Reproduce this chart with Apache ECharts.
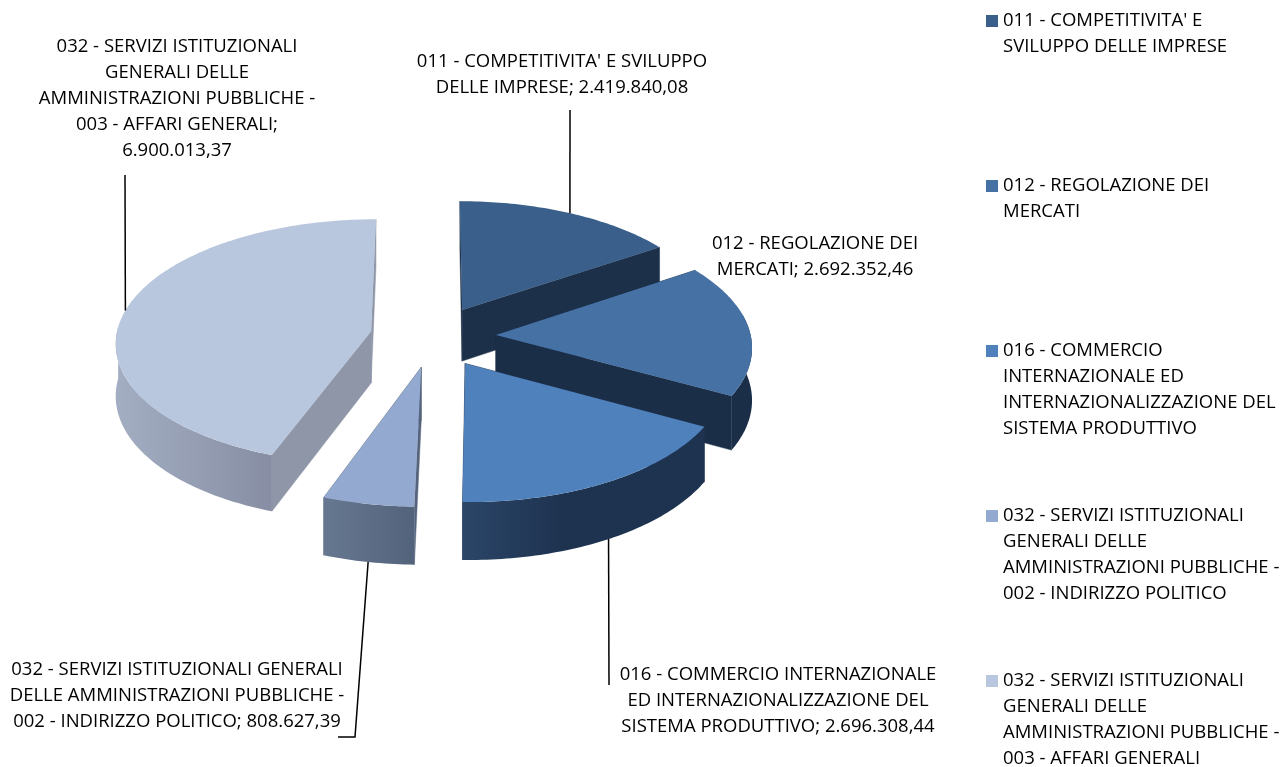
<!DOCTYPE html>
<html>
<head>
<meta charset="utf-8">
<style>
  html, body { margin: 0; padding: 0; background: #fff; }
  #main { width: 1284px; height: 767px; }
</style>
<script src="https://cdn.jsdelivr.net/npm/echarts@6/dist/echarts.min.js"></script>
</head>
<body>
<div id="main"></div>
<script>
// dati
const categories = [
  "011 - COMPETITIVITA' E SVILUPPO DELLE IMPRESE",
  '012 - REGOLAZIONE DEI MERCATI',
  '016 - COMMERCIO INTERNAZIONALE ED INTERNAZIONALIZZAZIONE DEL SISTEMA PRODUTTIVO',
  '032 - SERVIZI ISTITUZIONALI GENERALI DELLE AMMINISTRAZIONI PUBBLICHE - 002 - INDIRIZZO POLITICO',
  '032 - SERVIZI ISTITUZIONALI GENERALI DELLE AMMINISTRAZIONI PUBBLICHE - 003 - AFFARI GENERALI'
];
const values = [2419840.08, 2692352.46, 2696308.44, 808627.39, 6900013.37];
const legendLines = [
  ["011 - COMPETITIVITA' E", 'SVILUPPO DELLE IMPRESE'],
  ['012 - REGOLAZIONE DEI', 'MERCATI'],
  ['016 - COMMERCIO', 'INTERNAZIONALE ED', 'INTERNAZIONALIZZAZIONE DEL', 'SISTEMA PRODUTTIVO'],
  ['032 - SERVIZI ISTITUZIONALI', 'GENERALI DELLE', 'AMMINISTRAZIONI PUBBLICHE -', '002 - INDIRIZZO POLITICO'],
  ['032 - SERVIZI ISTITUZIONALI', 'GENERALI DELLE', 'AMMINISTRAZIONI PUBBLICHE -', '003 - AFFARI GENERALI']
];
const labelPrefix = [
  "011 - COMPETITIVITA' E SVILUPPO\nDELLE IMPRESE; ",
  '012 - REGOLAZIONE DEI\nMERCATI; ',
  '016 - COMMERCIO INTERNAZIONALE\nED INTERNAZIONALIZZAZIONE DEL\nSISTEMA PRODUTTIVO; ',
  '032 - SERVIZI ISTITUZIONALI GENERALI\nDELLE AMMINISTRAZIONI PUBBLICHE -\n002 - INDIRIZZO POLITICO; ',
  '032 - SERVIZI ISTITUZIONALI\nGENERALI DELLE\nAMMINISTRAZIONI PUBBLICHE -\n003 - AFFARI GENERALI;\n'
];

// colori
const topColors = ['#3a5f8b', '#4571a5', '#4f81bd', '#94a9cf', '#b9c7de'];
const cutColors = ['#1d3049', '#1b2e47', '#1e3350', '#55647c', '#8e96a8'];
const wallStops = [
  [[0, '#1d3049'], [1, '#1d3049']],
  [[0, '#1b2e47'], [1, '#1b2e47']],
  [[0, '#2b4668'], [0.4, '#1e3350'], [1, '#1e3350']],
  [[0, '#667790'], [1, '#53637b']],
  [[0, '#a3aec3'], [1, '#878ea3']]
];

// layout etichette: centro testo, estremi della linea guida
const labelPos = [[562, 75], [815, 257], [778, 701], [177, 696], [177, 99]];
const leaderEnd = [
  [[569, 110]],
  null,
  [[608, 685]],
  [[355, 737], [338, 737]],
  [[125, 175]]
];

// geometria della torta in prospettiva
const CX = 433, CY = 336.5;
const RX = 255, RD = 252, EXPLODE = 63;
const TILT = 0.485, PERSP = 0.000334, HEIGHT = 52;
const FONT_FAMILY = '"Open Sans", sans-serif';
const FONT_SIZE = 18.5;

const total = values.reduce((a, b) => a + b, 0);
const starts = [];
values.reduce((acc, v, i) => { starts[i] = acc; return acc + v / total * 360; }, 0);

const rad = d => d * Math.PI / 180;

function fmt(v) {
  const p = v.toFixed(2).split('.');
  return p[0].replace(/\B(?=(\d{3})+$)/g, '.') + ',' + p[1];
}

// mid = angolo medio della fetta, per lo spostamento dell'esplosione
function project(deg, r, mid, low) {
  const x = EXPLODE * Math.sin(rad(mid)) + RX * r * Math.sin(rad(deg));
  const d = EXPLODE * Math.cos(rad(mid)) + RD * r * Math.cos(rad(deg));
  const s = 1 / (1 + PERSP * d);
  return [CX + x * s, CY - TILT * d * s + (low ? HEIGHT * s : 0)];
}

function arcPoints(a0, a1, mid, low) {
  const pts = [];
  const n = Math.max(2, Math.ceil(a1 - a0));
  for (let k = 0; k <= n; k++) {
    pts.push(project(a0 + (a1 - a0) * k / n, 1, mid, low));
  }
  return pts;
}

function renderSlice(idx) {
  return function (params, api) {
    const sweep = api.value(0) / total * 360;
    const a0 = starts[idx];
    const a1 = a0 + sweep;
    const mid = a0 + sweep / 2;
    const children = [];

    // facce radiali
    [a0, a1].forEach(a => {
      children.push({
        type: 'polygon',
        shape: { points: [project(0, 0, mid), project(a, 1, mid), project(a, 1, mid, true), project(0, 0, mid, true)] },
        style: { fill: cutColors[idx], stroke: cutColors[idx], lineWidth: 0.5 }
      });
    });

    // parete esterna, solo la parte verso chi guarda
    const w0 = Math.max(a0, 80);
    const w1 = Math.min(a1, 272);
    if (w1 > w0) {
      children.push({
        type: 'polygon',
        shape: { points: arcPoints(w0, w1, mid).concat(arcPoints(w0, w1, mid, true).reverse()) },
        style: {
          fill: {
            type: 'linear', x: 0, y: 0, x2: 1, y2: 0,
            colorStops: wallStops[idx].map(s => ({ offset: s[0], color: s[1] }))
          }
        }
      });
    }

    // faccia superiore
    children.push({
      type: 'polygon',
      shape: { points: [project(0, 0, mid)].concat(arcPoints(a0, a1, mid)) },
      style: { fill: topColors[idx] }
    });

    // linea guida
    if (leaderEnd[idx]) {
      const front = Math.cos(rad(mid)) < 0;
      const anchor = project(mid, 1, mid, front);
      const pts = [anchor].concat(leaderEnd[idx]);
      if (leaderEnd[idx].length === 1) pts[1] = [Math.round(anchor[0]), pts[1][1]];
      children.push({
        type: 'polyline',
        shape: { points: pts },
        style: { stroke: '#000', lineWidth: 1.5, fill: null }
      });
    }

    // etichetta
    children.push({
      type: 'text',
      style: {
        text: labelPrefix[idx] + fmt(api.value(0)),
        x: labelPos[idx][0],
        y: labelPos[idx][1],
        align: 'center',
        verticalAlign: 'middle',
        font: FONT_SIZE + 'px ' + FONT_FAMILY,
        lineHeight: 26,
        fill: '#000'
      }
    });

    return { type: 'group', children };
  };
}

const chart = echarts.init(document.getElementById('main'), null, { renderer: 'canvas' });

chart.setOption({
  animation: false,
  backgroundColor: '#fff',
  legend: {
    orient: 'vertical',
    left: 986,
    top: 8,
    height: 800,
    padding: 0,
    itemGap: 61,
    itemWidth: 12,
    itemHeight: 104,
    selectedMode: false,
    // quadratino allineato alla prima riga del testo
    icon: 'path://M0,7H12V19H0Z M0,0L0,0Z M0,104L0,104Z',
    textStyle: { fontFamily: FONT_FAMILY, fontSize: FONT_SIZE, lineHeight: 26, color: '#000' },
    formatter: name => {
      const lines = legendLines[categories.indexOf(name)].slice();
      while (lines.length < 4) lines.push(' ');
      return lines.join('\n');
    },
    data: categories
  },
  series: categories.map((name, i) => ({
    type: 'custom',
    name,
    coordinateSystem: 'none',
    silent: true,
    itemStyle: { color: topColors[i] },
    renderItem: renderSlice(i),
    data: [[values[i]]]
  }))
});
</script>
</body>
</html>
